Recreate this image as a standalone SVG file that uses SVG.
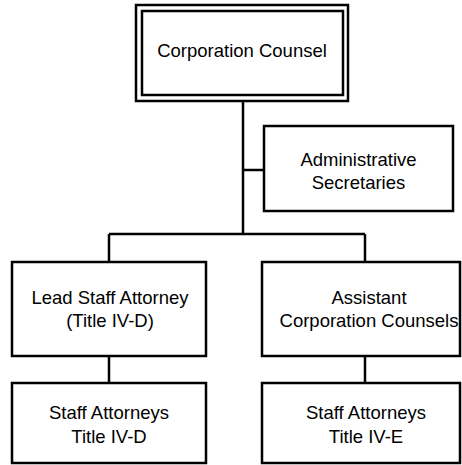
<svg xmlns="http://www.w3.org/2000/svg" width="462" height="465" viewBox="0 0 462 465">
<style>
.box{fill:#fff;stroke:#000;stroke-width:2.5}
.ln{fill:none;stroke:#000;stroke-width:2.5}
text{font-family:"Liberation Sans",Arial,sans-serif;font-size:18.5px;fill:#000;text-anchor:middle}
</style>
<rect width="462" height="465" fill="#fff"/>
<g id="connectors">
<path class="ln" d="M243,101 V234"/>
<path class="ln" d="M243,170 H264"/>
<path class="ln" d="M109,234 H365"/>
<path class="ln" d="M109,234 V262"/>
<path class="ln" d="M365,234 V262"/>
<path class="ln" d="M109,356 V383"/>
<path class="ln" d="M365,356 V383"/>
</g>
<g id="corporation-counsel">
<rect class="box" x="136" y="5" width="212" height="96"/>
<rect class="box" x="142" y="11" width="201" height="84"/>
<text x="242" y="57">Corporation Counsel</text>
</g>
<g id="administrative-secretaries">
<rect class="box" x="264" y="126" width="189" height="85"/>
<text x="358.5" y="166">Administrative</text>
<text x="358.5" y="189">Secretaries</text>
</g>
<g id="lead-staff-attorney">
<rect class="box" x="12" y="262" width="194" height="94"/>
<text x="110" y="304">Lead Staff Attorney</text>
<text x="110" y="327">(Title IV-D)</text>
</g>
<g id="assistant-corporation-counsels">
<rect class="box" x="262" y="262" width="198" height="94"/>
<text x="369" y="304">Assistant</text>
<text x="369" y="327">Corporation Counsels</text>
</g>
<g id="staff-attorneys-ivd">
<rect class="box" x="12" y="383" width="194" height="80"/>
<text x="109" y="419">Staff Attorneys</text>
<text x="109" y="443">Title IV-D</text>
</g>
<g id="staff-attorneys-ive">
<rect class="box" x="262" y="383" width="198" height="80"/>
<text x="366" y="419">Staff Attorneys</text>
<text x="366" y="443">Title IV-E</text>
</g>
</svg>
